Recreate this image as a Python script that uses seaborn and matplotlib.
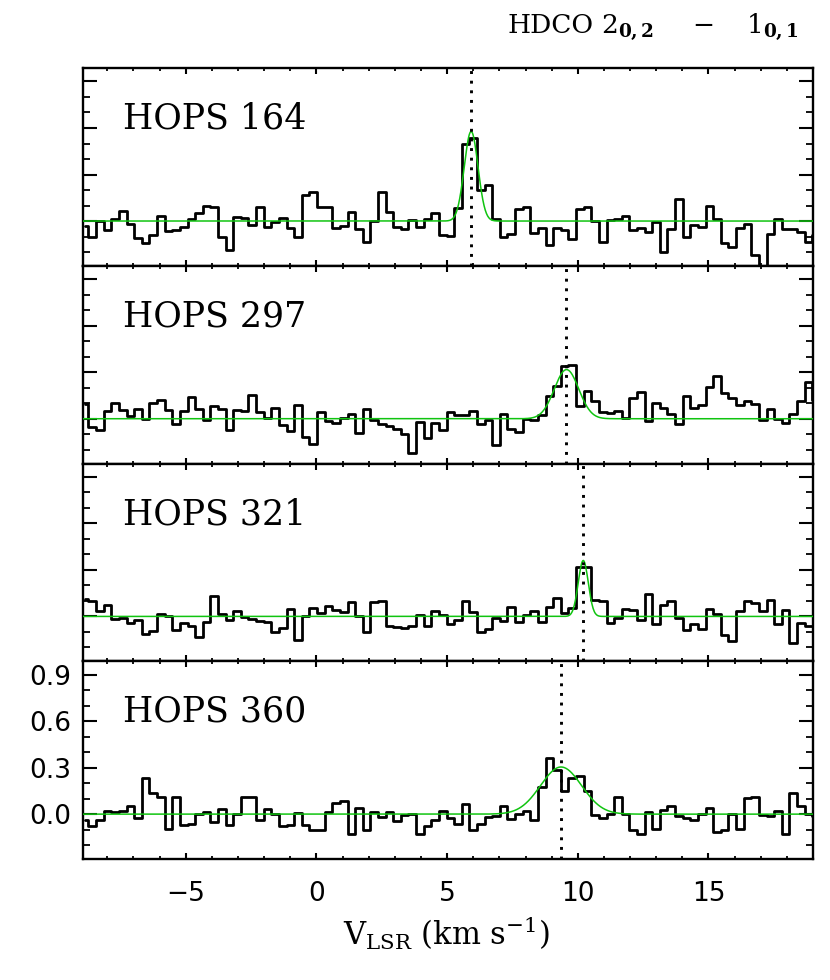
import numpy as np
import pandas as pd
import matplotlib
matplotlib.use("Agg")
import matplotlib.pyplot as plt
import seaborn as sns
from matplotlib.ticker import MultipleLocator, FixedLocator, NullFormatter

# ---------------- data ----------------
# channel grid (km/s): first channel edge and channel width
V_FIRST_EDGE = -9.013
DV = 0.2915

sources = ["HOPS 164", "HOPS 297", "HOPS 321", "HOPS 360"]

hops164 = [
    -0.03, -0.10, 0.00, -0.06, 0.01, 0.065, -0.02, -0.11, -0.14, -0.09,
    0.03, -0.065, -0.055, -0.04, 0.015, 0.05, 0.10, 0.09, -0.10, -0.19,
    0.026, 0.02, -0.028, 0.09, -0.039, -0.006, 0.02, -0.045, -0.10, 0.165,
    0.187, 0.09, 0.09, -0.043, -0.03, 0.058, -0.05, -0.135, 0.0, 0.187,
    0.058, -0.039, -0.054, 0.004, -0.039, 0.01, 0.05, -0.092, -0.099, 0.084,
    0.50, 0.535, 0.198, 0.23, 0.015, -0.10, -0.086, 0.08, 0.09, -0.077,
    -0.043, -0.152, -0.043, -0.06, -0.114, 0.08, 0.09, 0.0, -0.135, 0.004,
    0.01, 0.03, -0.06, -0.045, -0.07, -0.006, -0.20, -0.05, 0.14, -0.10,
    -0.028, -0.039, 0.10, 0.01, -0.14, -0.17, -0.045, -0.02, -0.22, -0.32,
    -0.086, 0.01, -0.05, -0.054, -0.07, -0.135, -0.09,
]
hops297 = [
    0.097, -0.054, -0.071, 0.047, 0.10, 0.054, 0.015, 0.06, 0.0, 0.10,
    0.123, 0.054, -0.037, 0.05, 0.14, 0.06, -0.01, 0.08, 0.065, -0.075,
    0.054, 0.05, 0.155, 0.043, 0.004, 0.069, -0.043, -0.08, 0.086, -0.12,
    -0.166, 0.043, -0.015, -0.026, 0.004, 0.032, -0.093, 0.06, -0.01, -0.032,
    -0.047, -0.069, -0.10, -0.222, -0.022, -0.123, -0.026, -0.075, 0.043, 0.022,
    0.022, 0.047, -0.037, -0.01, -0.172, 0.028, -0.065, -0.086, 0.0, -0.01,
    0.022, 0.147, 0.209, 0.338, 0.345, 0.08, 0.177, 0.112, 0.043, 0.037,
    0.047, 0.006, 0.134, 0.172, -0.015, 0.103, 0.069, 0.032, -0.032, 0.147,
    0.069, 0.086, 0.205, 0.276, 0.168, 0.134, 0.086, 0.112, 0.097, -0.006,
    0.06, 0.0, -0.028, 0.032, 0.112, 0.237, 0.118,
]
hops321 = [
    0.11, 0.10, 0.035, 0.072, -0.015, -0.009, -0.043, -0.026, -0.113, -0.091,
    0.013, 0.0, -0.085, -0.043, -0.059, -0.13, -0.037, 0.133, 0.017, -0.022,
    0.033, -0.004, -0.015, -0.03, -0.037, -0.102, -0.074, 0.046, -0.152, 0.0,
    0.054, 0.024, 0.065, 0.043, 0.028, 0.093, 0.0, -0.102, 0.093, 0.098,
    -0.059, -0.07, -0.074, -0.063, 0.007, -0.059, 0.033, 0.007, -0.05, -0.022,
    0.098, 0.028, -0.102, -0.08, -0.009, -0.03, 0.061, -0.033, 0.011, 0.035,
    -0.037, 0.061, 0.122, 0.022, 0.054, 0.322, 0.322, 0.104, 0.10, -0.043,
    -0.011, 0.046, 0.039, -0.026, 0.143, -0.052, 0.072, 0.098, -0.009, -0.085,
    -0.052, -0.08, 0.046, 0.017, -0.117, -0.161, 0.033, 0.098, 0.087, 0.033,
    0.104, -0.052, 0.039, -0.174, -0.043, -0.059, -0.06,
]
hops360 = [
    -0.039, -0.076, -0.035, 0.02, 0.015, 0.02, 0.052, -0.028, 0.233, 0.139,
    0.113, -0.098, 0.113, -0.067, -0.061, 0.0, 0.011, -0.05, 0.033, -0.072,
    -0.002, 0.113, 0.113, -0.035, 0.033, 0.0, -0.076, -0.072, 0.009, -0.067,
    -0.104, -0.104, 0.015, 0.074, 0.087, -0.13, 0.037, -0.104, 0.011, -0.017,
    0.011, -0.046, -0.007, 0.0, -0.13, -0.076, -0.039, 0.02, -0.024, -0.061,
    0.063, -0.1, -0.061, -0.017, -0.011, 0.052, -0.033, 0.004, 0.02, -0.039,
    0.174, 0.359, 0.287, 0.152, 0.233, 0.243, 0.15, -0.007, -0.024, 0.0,
    0.113, 0.0, -0.104, -0.126, 0.011, -0.093, 0.026, 0.052, -0.011, -0.024,
    -0.039, 0.0, 0.041, -0.115, -0.104, 0.0, -0.093, 0.102, 0.109, -0.007,
    -0.013, 0.02, -0.13, 0.135, 0.054, 0.004, -0.01,
]
spectra = [hops164, hops297, hops321, hops360]

# Gaussian fits (peak, centre km/s, FWHM km/s) and systemic velocities
fit_amp = [0.578, 0.317, 0.361, 0.304]
fit_vc = [5.92, 9.57, 10.21, 9.36]
fit_fwhm = [0.62, 1.10, 0.45, 1.85]
vlsr_marks = [5.92, 9.54, 10.21, 9.36]

x_range = (-8.95, 19.0)
y_range = (-0.29, 0.985)
x_major = [-5, 0, 5, 10, 15]
y_major = [0.0, 0.3, 0.6, 0.9]
y_major_labels = ["0.0", "0.3", "0.6", "0.9"]

# title pieces: "HDCO  2_{0,2}  -  1_{0,1}"
title_parts = ["HDCO", r"2$_{\mathbf{0,2}}$", "\u2212", r"1$_{\mathbf{0,1}}$"]
xlabel = r"V$_{\mathrm{LSR}}$ (km s$^{-1}$)"

# ---------------- style ----------------
sns.set_style("ticks")
plt.rcParams.update({
    "font.family": ["DejaVu Sans"],
    "mathtext.fontset": "dejavuserif",
    "axes.linewidth": 1.7,
    "axes.edgecolor": "black",
    "xtick.color": "black",
    "ytick.color": "black",
    "xtick.labelcolor": "black",
    "ytick.labelcolor": "black",
    "text.color": "black",
})

GREEN = "#10c410"
W, H = 830, 980
fig = plt.figure(figsize=(W / 100, H / 100), dpi=100)

left = 82.5 / W
width = 730.5 / W
top = 1 - 68.3 / H
ph = 197.7 / H

for i, (name, spec) in enumerate(zip(sources, spectra)):
    ax = fig.add_axes([left, top - (i + 1) * ph, width, ph])
    vel = V_FIRST_EDGE + DV * (np.arange(len(spec)) + 0.5)
    df = pd.DataFrame({"v": vel, "T": spec})

    vfine = np.linspace(x_range[0], x_range[1], 1200)
    sig = fit_fwhm[i] / (2 * np.sqrt(2 * np.log(2)))
    model = fit_amp[i] * np.exp(-0.5 * ((vfine - fit_vc[i]) / sig) ** 2)
    dfm = pd.DataFrame({"v": vfine, "T": model})

    sns.lineplot(data=df, x="v", y="T", ax=ax, color="black", lw=2.0,
                 drawstyle="steps-mid", estimator=None, sort=False, zorder=3)
    sns.lineplot(data=dfm, x="v", y="T", ax=ax, color=GREEN, lw=1.1,
                 estimator=None, sort=False, zorder=4)
    ax.axvline(vlsr_marks[i], color="black", lw=2.1, ls=(0, (1, 2.3)), zorder=5)

    ax.set_xlim(*x_range)
    ax.set_ylim(*y_range)
    ax.set_xlabel("")
    ax.set_ylabel("")

    ax.xaxis.set_major_locator(FixedLocator(x_major))
    ax.xaxis.set_minor_locator(MultipleLocator(1))
    ax.yaxis.set_major_locator(FixedLocator(y_major))
    ax.yaxis.set_minor_locator(MultipleLocator(0.1))
    ax.tick_params(axis="x", which="major", direction="in", length=4, width=1.5,
                   top=True, bottom=True, pad=16, labelsize=19)
    ax.tick_params(axis="x", which="minor", direction="in", length=2, width=1.3,
                   top=True, bottom=True)
    ax.tick_params(axis="y", which="major", direction="in", length=10, width=1.5,
                   left=True, right=True, pad=8, labelsize=19)
    ax.tick_params(axis="y", which="minor", direction="in", length=5, width=1.3,
                   left=True, right=True)

    if i == len(sources) - 1:
        ax.set_yticklabels(y_major_labels)
    else:
        ax.xaxis.set_major_formatter(NullFormatter())
        ax.yaxis.set_major_formatter(NullFormatter())

    ax.text(0.055, 1 - 60.5 / 197.7, name, transform=ax.transAxes,
            ha="left", va="baseline", fontsize=25, family="DejaVu Serif")

# title, placed piece by piece to mimic the wide spacing
title_x = [507, 601, 703, 746]
title_ha = ["left", "left", "center", "left"]
for txt, xp, ha in zip(title_parts, title_x, title_ha):
    fig.text(xp / W, 1 - 33 / H, txt, ha=ha, va="baseline",
             fontsize=19, family="DejaVu Serif")

fig.text(446 / W, 1 - 945 / H, xlabel, ha="center", va="baseline",
         fontsize=22, family="DejaVu Serif")

fig.savefig("out.png", dpi=100)
